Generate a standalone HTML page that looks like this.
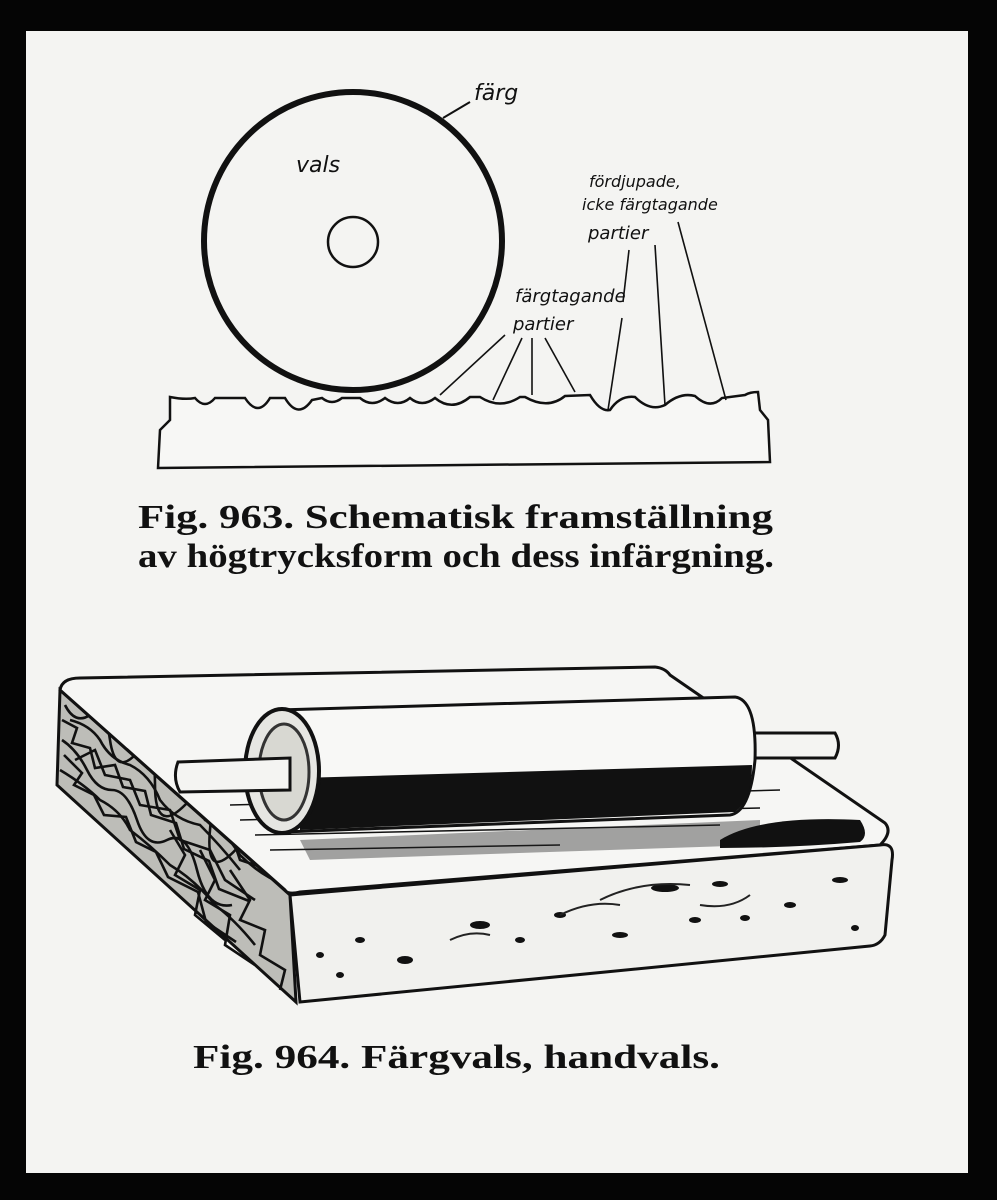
<!DOCTYPE html>
<html><head><meta charset="utf-8">
<style>
html,body{margin:0;padding:0;background:#000;}
svg{display:block}
</style></head>
<body>
<svg width="997" height="1200" viewBox="0 0 997 1200" xmlns="http://www.w3.org/2000/svg">
<rect x="0" y="0" width="997" height="1200" fill="#050505"/>
<rect x="26" y="31" width="942" height="1142" fill="#f4f4f2"/>

<!-- Fig 963 -->
<circle cx="353" cy="241" r="149" fill="none" stroke="#111" stroke-width="6"/>
<circle cx="353" cy="242" r="25" fill="none" stroke="#111" stroke-width="2.5"/>
<path d="M443 118 L470 102" stroke="#111" stroke-width="2" fill="none"/>
<g font-family="'DejaVu Sans','Liberation Sans',sans-serif" font-style="italic" fill="#111">
<text x="474" y="100" font-size="22">färg</text>
<text x="296" y="172" font-size="22">vals</text>
<text x="589" y="187" font-size="16">fördjupade,</text>
<text x="582" y="210" font-size="16">icke färgtagande</text>
<text x="588" y="239" font-size="18">partier</text>
<text x="515" y="302" font-size="18">färgtagande</text>
<text x="513" y="330" font-size="18">partier</text>
</g>
<path d="M170 397 Q185 400 195 398 Q205 410 215 398 L245 398 Q258 418 270 398 L285 398 Q298 420 312 400 L322 398 Q332 406 342 398 L360 398 Q372 408 385 398 Q398 408 410 398 Q422 408 435 398 Q452 412 470 397 L480 397 Q500 410 520 397 L525 397 Q548 410 565 396 L590 395 Q600 412 610 410 Q620 395 635 397 Q650 412 665 405 Q680 392 695 396 Q710 410 722 398 L745 395 Q750 392 758 392 L760 410 L768 420 L770 462 L158 468 L160 430 L170 420 Z" fill="#f7f7f5" stroke="#111" stroke-width="2.5"/>
<g stroke="#111" stroke-width="1.6" fill="none">
<path d="M440 395 L505 335"/><path d="M493 400 L522 338"/><path d="M532 395 L532 338"/><path d="M575 392 L545 338"/>
<path d="M608 410 L622 318"/><path d="M623 302 L629 250"/><path d="M665 405 L655 245"/><path d="M726 400 L678 222"/>
</g>
<g font-family="'Liberation Serif',serif" font-weight="bold" fill="#111" font-size="34">
<text x="138" y="528" textLength="635" lengthAdjust="spacingAndGlyphs">Fig. 963.  Schematisk framställning</text>
<text x="138" y="567" textLength="636" lengthAdjust="spacingAndGlyphs">av högtrycksform och dess infärgning.</text>
<text x="193" y="1068" textLength="527" lengthAdjust="spacingAndGlyphs">Fig. 964.  Färgvals, handvals.</text>
</g>

<!-- Fig 964 slab -->
<path d="M60 690 L290 895 L296 1002 L57 785 Z" fill="#bdbdb8" stroke="#111" stroke-width="3"/>
<g stroke="#111" stroke-width="2.6" fill="none">
<path d="M65 705 q10 20 25 10 t20 25 t25 15 t20 30 t30 20 t25 25 t30 15"/>
<path d="M62 740 q15 10 25 30 t25 20 t25 30 t30 20 t30 30 t35 35"/>
<path d="M70 720 q20 5 30 20 q10 20 30 25 q20 10 30 35 q15 20 40 25 q20 20 40 45"/>
<path d="M60 770 q25 15 40 30 q20 10 30 30 q20 15 40 35 q25 15 45 40 q20 15 40 40"/>
<path d="M85 700 q10 30 40 40 q20 10 35 35 q20 20 40 30 q20 20 40 50 q20 20 45 30"/>
<path d="M75 760 l20 -10 l10 25 l25 5 l10 25 l30 5 l10 30 l30 10 l15 30 l30 20"/>
<path d="M62 720 l15 8 l-5 15 l18 5 l5 20 l20 -3 l8 22 l22 4 l6 24 l25 8 l8 26 l25 12 l10 28 l30 12"/>
<path d="M64 755 l18 18 l-8 12 l20 10 l10 20 l22 2 l10 25 l20 10 l12 25 l30 15 l8 30 l30 20"/>
<path d="M100 705 l10 25 l20 -5 l10 30 l20 5 l10 25 l25 10 l10 25 l25 10 l10 30 l30 10"/>
<path d="M230 870 l20 30 l-10 20 l25 10 l-5 25 l25 15 l-5 20"/>
<path d="M200 850 l15 30 l-10 20 l25 15 l-5 30 l30 20"/>
<path d="M170 830 l15 25 l-10 20 l25 15 l-5 25 l30 25"/>
</g>
<path d="M60 690 Q62 678 80 678 L655 667 Q665 668 670 675 L885 823 Q893 832 880 845 L300 892 Q288 895 285 890 Z" fill="#f6f6f4" stroke="#111" stroke-width="3"/>
<path d="M290 895 L880 845 Q895 842 892 860 L885 935 Q880 945 870 946 L300 1002 Z" fill="#f1f1ee" stroke="#111" stroke-width="3"/>
<g fill="#111">
<ellipse cx="405" cy="960" rx="8" ry="4"/><ellipse cx="480" cy="925" rx="10" ry="4"/><ellipse cx="560" cy="915" rx="6" ry="3"/>
<ellipse cx="665" cy="888" rx="14" ry="4"/><ellipse cx="720" cy="884" rx="8" ry="3"/><ellipse cx="840" cy="880" rx="8" ry="3"/>
<ellipse cx="695" cy="920" rx="6" ry="3"/><ellipse cx="745" cy="918" rx="5" ry="3"/><ellipse cx="855" cy="928" rx="4" ry="3"/>
<ellipse cx="520" cy="940" rx="5" ry="3"/><ellipse cx="620" cy="935" rx="8" ry="3"/><ellipse cx="340" cy="975" rx="4" ry="3"/>
<ellipse cx="320" cy="955" rx="4" ry="3"/><ellipse cx="360" cy="940" rx="5" ry="3"/><ellipse cx="790" cy="905" rx="6" ry="3"/>
</g>
<g stroke="#222" stroke-width="2" fill="none">
<path d="M560 915 q30 -15 60 -10"/><path d="M450 940 q20 -10 40 -5"/><path d="M600 900 q40 -20 90 -15"/><path d="M700 905 q30 5 50 -10"/>
</g>
<!-- hatching under roller -->
<g stroke="#111" stroke-width="1.5">
<path d="M230 805 L780 790"/><path d="M240 820 L760 808"/><path d="M255 835 L720 825"/><path d="M270 850 L560 845"/>
</g>
<path d="M300 840 L760 820 L760 845 L310 860 Z" fill="#222" opacity="0.4"/>
<path d="M720 840 Q760 815 860 820 Q870 835 860 842 Q790 848 720 848 Z" fill="#111"/>
<!-- roller -->
<path d="M745 733 L835 733 Q842 745 835 758 L745 758 Z" fill="#f4f4f2" stroke="#111" stroke-width="3"/>
<path d="M278 710 L735 697 Q757 700 755 760 Q750 812 730 815 L285 832 Z" fill="#f8f8f6" stroke="#111" stroke-width="3"/>
<path d="M300 778 L752 765 Q752 800 735 812 L300 830 Z" fill="#111"/>
<ellipse cx="282" cy="771" rx="37" ry="62" fill="#e6e6e2" stroke="#111" stroke-width="4"/>
<ellipse cx="284" cy="772" rx="25" ry="48" fill="#d8d8d2" stroke="#333" stroke-width="3"/>
<path d="M178 762 L290 758 L290 790 L180 792 Q172 778 178 762 Z" fill="#f4f4f2" stroke="#111" stroke-width="3"/>
</svg>
</body></html>
